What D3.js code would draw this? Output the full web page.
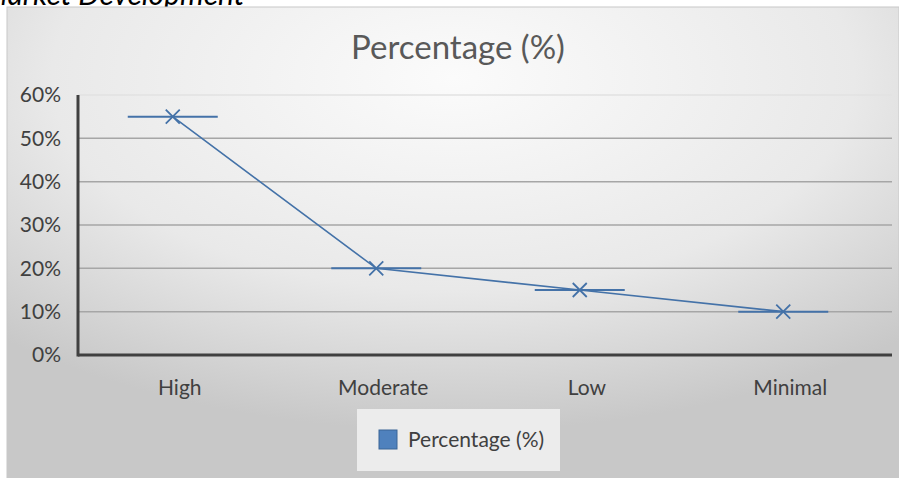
<!DOCTYPE html>
<html>
<head>
<meta charset="utf-8">
<script src="https://cdn.jsdelivr.net/npm/d3@7"></script>
<style>
  html, body { margin: 0; padding: 0; background: #fff; overflow: hidden; }
  svg { display: block; font-family: Lato, "Open Sans", sans-serif; }
</style>
</head>
<body>
<svg id="chart" width="899" height="478"></svg>
<script>
// Datos del gráfico
const categories = ['High', 'Moderate', 'Low', 'Minimal'];
const percentages = [0.55, 0.20, 0.15, 0.10];
const yTicks = [0, 0.1, 0.2, 0.3, 0.4, 0.5, 0.6];
const seriesName = 'Percentage (%)';

const svg = d3.select('#chart');
const W = 899, H = 478;
const box = { x: 7, y: 7, w: W - 7, h: H - 7 };
const plot = { left: 78, right: 892, top: 95, bottom: 355 };
const blue = '#4472a8';

// Fondo con degradado radial
const defs = svg.append('defs');
const grad = defs.append('radialGradient')
    .attr('id', 'bg')
    .attr('cx', '50%').attr('cy', '15%').attr('r', '75%');
grad.append('stop').attr('offset', '0%').attr('stop-color', '#fbfbfb');
grad.append('stop').attr('offset', '60%').attr('stop-color', '#e9e9e9');
grad.append('stop').attr('offset', '100%').attr('stop-color', '#c8c8c8');

// Texto cortado encima del gráfico (también cortado en el original)
svg.append('text')
    .attr('x', -18).attr('y', 5)
    .attr('font-size', 30)
    .attr('font-style', 'italic')
    .attr('fill', '#000')
    .text('Market Development');

svg.append('rect')
    .attr('x', box.x).attr('y', box.y)
    .attr('width', box.w).attr('height', box.h)
    .attr('fill', 'url(#bg)')
    .attr('stroke', '#c8c8c8');

// Escalas
const x = d3.scaleBand().domain(categories).range([plot.left, plot.right]);
const y = d3.scaleLinear().domain([0, 0.6]).range([plot.bottom, plot.top]);
const cx = d => x(d) + x.bandwidth() / 2 - 7;

// Título
svg.append('text')
    .attr('x', 458).attr('y', 59)
    .attr('text-anchor', 'middle')
    .attr('font-size', 33)
    .attr('fill', '#595959')
    .text(seriesName);

// Cuadrícula
svg.append('g')
    .selectAll('line')
    .data(yTicks.slice(1))
    .enter().append('line')
    .attr('x1', plot.left).attr('x2', plot.right)
    .attr('y1', d => y(d)).attr('y2', d => y(d))
    .attr('stroke', (d, i) => i === yTicks.length - 2 ? '#e2e2e2' : '#a6a6a6')
    .attr('stroke-width', 1.5);

// Eje Y
const yAxis = svg.append('g')
    .attr('transform', `translate(${plot.left},0)`)
    .call(d3.axisLeft(y).tickValues(yTicks).tickFormat(d3.format('.0%')).tickSize(0).tickPadding(17));
yAxis.select('.domain').remove();
yAxis.selectAll('text')
    .attr('font-size', 21)
    .attr('font-family', 'Lato, sans-serif')
    .attr('fill', '#404040');

// Eje X
const xAxis = svg.append('g')
    .attr('transform', `translate(0,${plot.bottom})`)
    .call(d3.axisBottom(x).tickSize(0).tickPadding(25));
xAxis.select('.domain').remove();
xAxis.selectAll('text')
    .attr('font-size', 21)
    .attr('font-family', 'Lato, sans-serif')
    .attr('fill', '#404040');

// Líneas de ejes gruesas
svg.append('line')
    .attr('x1', plot.left).attr('x2', plot.left)
    .attr('y1', plot.top).attr('y2', plot.bottom + 1.5)
    .attr('stroke', '#404040').attr('stroke-width', 3);
svg.append('line')
    .attr('x1', plot.left).attr('x2', plot.right)
    .attr('y1', plot.bottom).attr('y2', plot.bottom)
    .attr('stroke', '#404040').attr('stroke-width', 3);

// Serie
const pts = categories.map((c, i) => ({ c, v: percentages[i] }));

svg.append('path')
    .datum(pts)
    .attr('fill', 'none')
    .attr('stroke', blue)
    .attr('stroke-width', 1.6)
    .attr('d', d3.line().x(d => cx(d.c)).y(d => y(d.v)));

// Marcadores: guión horizontal + X
const m = svg.append('g').selectAll('g')
    .data(pts)
    .enter().append('g')
    .attr('transform', d => `translate(${cx(d.c)},${y(d.v)})`);

m.append('line')
    .attr('x1', -45).attr('x2', 45)
    .attr('stroke', blue).attr('stroke-width', 2);
m.append('path')
    .attr('d', 'M-7,-7L7,7M-7,7L7,-7')
    .attr('stroke', blue).attr('stroke-width', 1.8);

// Leyenda
const lg = svg.append('g').attr('transform', 'translate(357,409)');
lg.append('rect')
    .attr('width', 203).attr('height', 62)
    .attr('fill', '#ececec');
lg.append('rect')
    .attr('x', 22).attr('y', 21)
    .attr('width', 18).attr('height', 19)
    .attr('fill', '#4f81bd').attr('stroke', '#3a6596');
lg.append('text')
    .attr('x', 51).attr('y', 38)
    .attr('font-size', 21)
    .attr('fill', '#404040')
    .text(seriesName);
</script>
</body>
</html>
